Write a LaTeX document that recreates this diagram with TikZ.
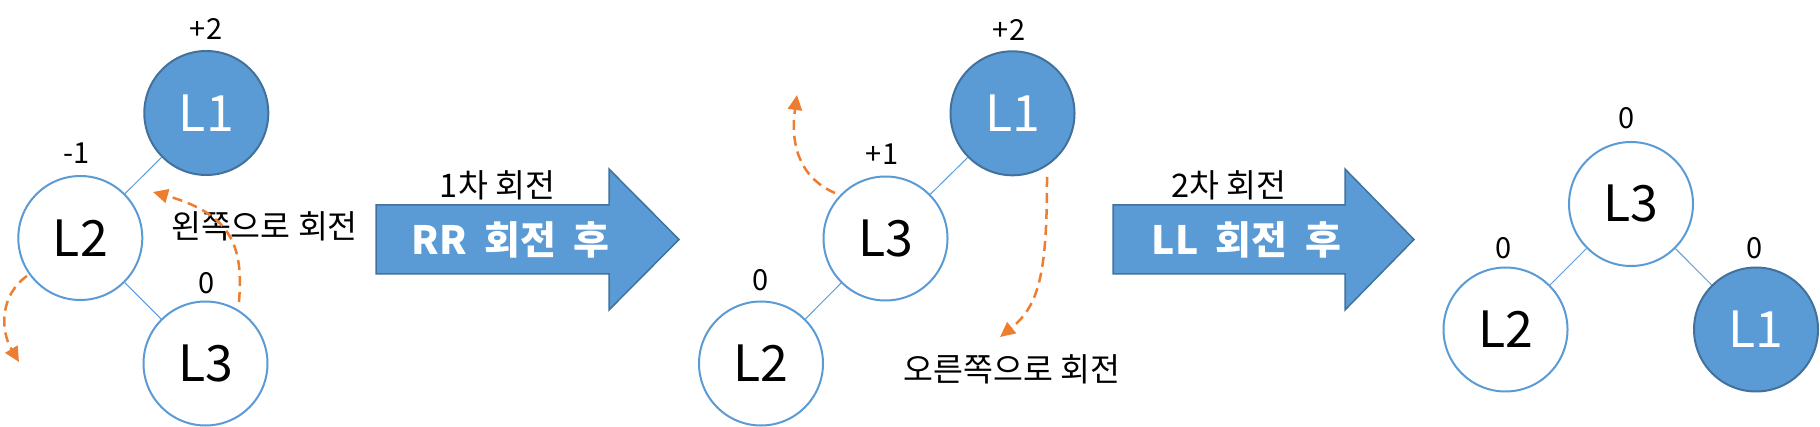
\documentclass[tikz,border=0pt]{standalone}
\usepackage{fontspec}
\setmainfont{Noto Sans CJK KR}
\usetikzlibrary{arrows.meta}
\definecolor{nblue}{HTML}{5B9BD5}
\definecolor{dblue}{HTML}{41719C}
\definecolor{orng}{HTML}{ED7D31}
\begin{document}
\begin{tikzpicture}[x=1pt,y=-1pt,
  hollow/.style={circle, draw=nblue, line width=2pt, fill=white, minimum size=124pt, inner sep=0pt, font=\fontsize{50}{50}\selectfont},
  filledn/.style={circle, draw=dblue, line width=2pt, fill=nblue, text=white, minimum size=124pt, inner sep=0pt, font=\fontsize{50}{50}\selectfont},
  bal/.style={inner sep=0pt, font=\fontsize{29}{29}\selectfont},
  lbl/.style={inner sep=0pt, font=\fontsize{32.5}{32.5}\selectfont},
  blabel/.style={inner sep=0pt, text=white, font=\fontsize{39}{39}\selectfont\bfseries},
  treeedge/.style={draw=nblue, line width=1pt},
  rot/.style={draw=orng, line width=2.5pt, dash pattern=on 10pt off 6pt, -{Triangle[length=15pt,width=14pt]}},
  blockarrow/.style={fill=nblue, draw=dblue, line width=1.5pt, line join=miter}
]
\useasboundingbox (0,0) rectangle (1820,427);

% ---- left tree ----
\node[filledn] (a1) at (206.3,113) {L1};
\node[hollow] (a2) at (80.3,238) {L2};
\node[hollow] (a3) at (205.5,363.5) {L3};
\draw[treeedge] (a1) -- (a2);
\draw[treeedge] (a2) -- (a3);
\node[bal] (ab1) at (206,29) {+2};
\node[bal] (ab2) at (77,153) {-1};
\node[bal] (ab3) at (207,283) {0};
\node[lbl] (al) at (264.5,226) {왼쪽으로 회전};
\coordinate (ar1s) at (239,302);
\coordinate (ar1e) at (153,192);
\draw[rot] (ar1s) .. controls (243,250) and (235,215) .. (ar1e);
\coordinate (ar2s) at (27,276);
\coordinate (ar2e) at (19,362);
\draw[rot] (ar2s) .. controls (0,295) and (0,330) .. (ar2e);

% ---- first block arrow ----
\draw[blockarrow] (376,205) -- (609,205) -- (609,169) -- (679,239.5) -- (609,310) -- (609,274) -- (376,274) -- cycle;
\node[lbl] (t1) at (497.5,185) {1차 회전};
\node[blabel] (r1) at (510.5,240) {RR\hspace{0.45em}회전\hspace{0.45em}후};

% ---- middle tree ----
\node[filledn] (b1) at (1012.5,113.3) {L1};
\node[hollow] (b3) at (885.5,238.5) {L3};
\node[hollow] (b2) at (761,363.5) {L2};
\draw[treeedge] (b1) -- (b3);
\draw[treeedge] (b3) -- (b2);
\node[bal] (bb1) at (1009,30) {+2};
\node[bal] (bb3) at (882,154) {+1};
\node[bal] (bb2) at (761,280) {0};
\node[lbl] (bl) at (1012,369) {오른쪽으로 회전};
\coordinate (br1s) at (835,193);
\coordinate (br1e) at (797,95);
\draw[rot] (br1s) .. controls (800,178) and (790,145) .. (br1e);
\coordinate (br2s) at (1047,177);
\coordinate (br2e) at (1000,337);
\draw[rot] (br2s) .. controls (1047,270) and (1040,305) .. (br2e);

% ---- second block arrow ----
\draw[blockarrow] (1113,205) -- (1345,205) -- (1345,169) -- (1414,239.5) -- (1345,310) -- (1345,274) -- (1113,274) -- cycle;
\node[lbl] (t2) at (1228.5,185) {2차 회전};
\node[blabel] (r2) at (1246.5,240) {LL\hspace{0.45em}회전\hspace{0.45em}후};

% ---- right tree ----
\node[hollow] (c3) at (1631,204) {L3};
\node[hollow] (c2) at (1505.5,329.5) {L2};
\node[filledn] (c1) at (1756,329.5) {L1};
\draw[treeedge] (c3) -- (c2);
\draw[treeedge] (c3) -- (c1);
\node[bal] (cb3) at (1627,118) {0};
\node[bal] (cb2) at (1504,248) {0};
\node[bal] (cb1) at (1755,248) {0};
\end{tikzpicture}
\end{document}
